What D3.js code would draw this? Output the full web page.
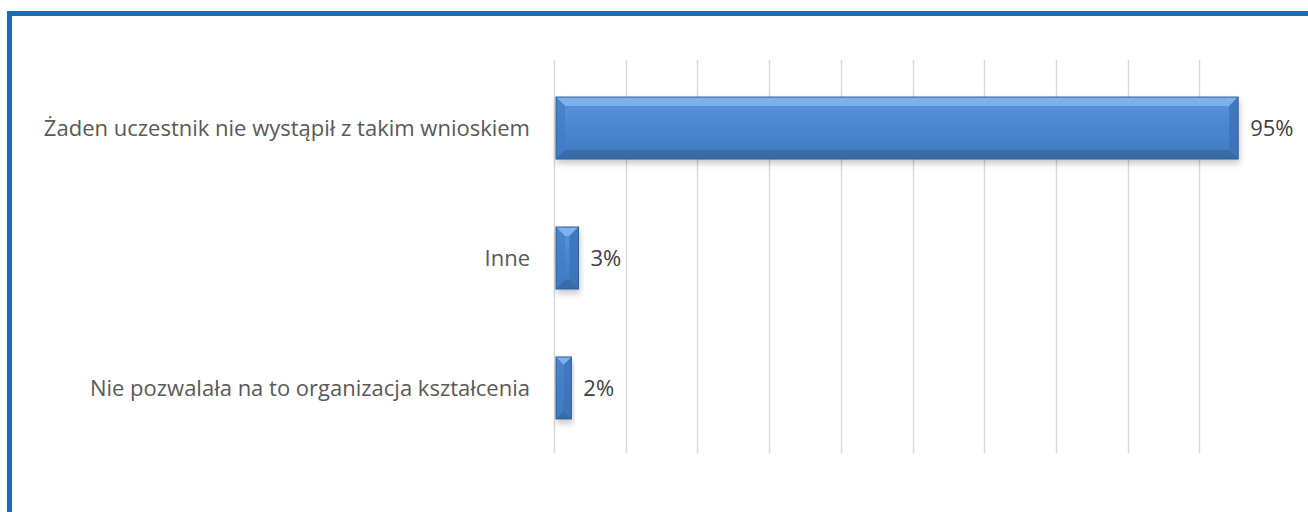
<!DOCTYPE html>
<html>
<head>
<meta charset="utf-8">
<script src="https://cdn.jsdelivr.net/npm/d3@7"></script>
<style>
  html, body { margin: 0; padding: 0; background: #fff; }
  svg { display: block; }
</style>
</head>
<body>
<div id="chart"></div>
<script>
const categories = [
  "Żaden uczestnik nie wystąpił z takim wnioskiem",
  "Inne",
  "Nie pozwalała na to organizacja kształcenia"
];
const values = [0.95, 0.03, 0.02];
const valueLabels = ["95%", "3%", "2%"];
const gridTicks = [0, 0.1, 0.2, 0.3, 0.4, 0.5, 0.6, 0.7, 0.8, 0.9];

const W = 1308, H = 512;
const svg = d3.select('#chart').append('svg').attr('width', W).attr('height', H);

const defs = svg.append('defs');
const grad = defs.append('linearGradient').attr('id', 'barFill').attr('x1', 0).attr('y1', 0).attr('x2', 0).attr('y2', 1);
grad.append('stop').attr('offset', '0%').attr('stop-color', '#5b95dc');
grad.append('stop').attr('offset', '50%').attr('stop-color', '#4a86cf');
grad.append('stop').attr('offset', '100%').attr('stop-color', '#3f78bf');
const sh = defs.append('filter').attr('id', 'shadow').attr('x', '-10%').attr('y', '-10%').attr('width', '130%').attr('height', '140%');
sh.append('feDropShadow').attr('dx', 1).attr('dy', 4).attr('stdDeviation', 3).attr('flood-color', '#000').attr('flood-opacity', 0.22);

// frame (top + left)
svg.append('rect').attr('x', 7).attr('y', 11).attr('width', W - 7).attr('height', 5).attr('fill', '#1e6cb8');
svg.append('rect').attr('x', 7).attr('y', 11).attr('width', 5).attr('height', H - 11).attr('fill', '#1e6cb8');

const x = d3.scaleLinear().domain([0, 1]).range([555, 555 + 717]);
const y = d3.scaleBand().domain(categories).range([60, 456]).paddingInner(0.523).paddingOuter(0.285);

// gridlines
svg.append('g').selectAll('line').data(gridTicks).join('line')
  .attr('x1', d => Math.round(x(d)) - 0.5).attr('x2', d => Math.round(x(d)) - 0.5)
  .attr('y1', 60).attr('y2', 453)
  .attr('stroke', '#d9d9d9').attr('stroke-width', 1.5);

// category labels
svg.append('g').selectAll('text').data(categories).join('text')
  .attr('x', 530).attr('y', d => y(d) + y.bandwidth() / 2)
  .attr('dy', '0.35em').attr('text-anchor', 'end')
  .attr('fill', '#595959').style('font-family', 'Open Sans, sans-serif').style('font-size', '22px')
  .text(d => d);

// bars with bevel
const bars = svg.append('g').selectAll('g').data(categories).join('g')
  .attr('filter', 'url(#shadow)');
bars.each(function(d, i) {
  const g = d3.select(this);
  const x0 = x(0) + 1, x1 = x(values[i]) + 2;
  const y0 = y(d), y1 = y(d) + y.bandwidth();
  const w = x1 - x0, h = y1 - y0;
  const b = Math.min(9, w / 2, h / 2);
  g.append('rect').attr('x', x0).attr('y', y0).attr('width', w).attr('height', h).attr('fill', 'url(#barFill)');
  // top bevel (light)
  g.append('polygon').attr('points', [[x0, y0], [x1, y0], [x1 - b, y0 + b], [x0 + b, y0 + b]].join(' ')).attr('fill', '#86b9f2').attr('opacity', 0.8);
  // left bevel
  g.append('polygon').attr('points', [[x0, y0], [x0 + b, y0 + b], [x0 + b, y1 - b], [x0, y1]].join(' ')).attr('fill', '#417cc6').attr('opacity', 0.7);
  // right bevel
  g.append('polygon').attr('points', [[x1, y0], [x1, y1], [x1 - b, y1 - b], [x1 - b, y0 + b]].join(' ')).attr('fill', '#3b72b6').attr('opacity', 0.8);
  // bottom bevel (dark)
  g.append('polygon').attr('points', [[x0, y1], [x0 + b, y1 - b], [x1 - b, y1 - b], [x1, y1]].join(' ')).attr('fill', '#36689f').attr('opacity', 0.75);
  g.append('rect').attr('x', x0).attr('y', y0).attr('width', w).attr('height', h)
    .attr('fill', 'none').attr('stroke', '#2f5e98').attr('stroke-width', 1);
});

// value labels
svg.append('g').selectAll('text').data(categories).join('text')
  .attr('x', (d, i) => x(values[i]) + 14).attr('y', d => y(d) + y.bandwidth() / 2)
  .attr('dy', '0.35em')
  .attr('fill', '#404040').style('font-family', 'Open Sans, sans-serif').style('font-size', '22px')
  .text((d, i) => valueLabels[i]);
</script>
</body>
</html>
